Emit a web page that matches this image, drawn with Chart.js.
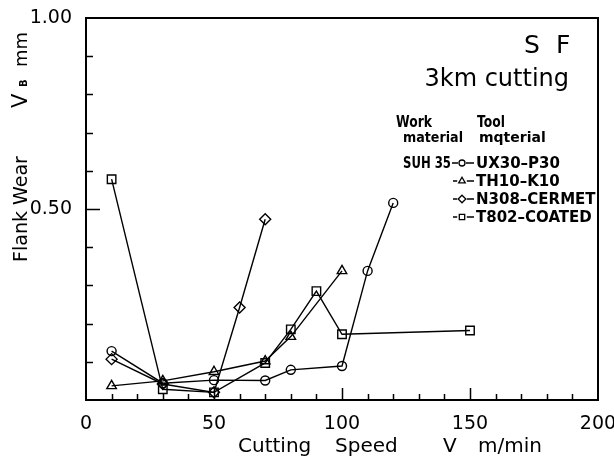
<!DOCTYPE html>
<html><head><meta charset="utf-8">
<script src="https://cdn.jsdelivr.net/npm/chart.js@4.4.0/dist/chart.umd.min.js"></script>
<style>html,body{margin:0;padding:0;background:#fff;overflow:hidden}canvas{display:block}</style>
</head><body>
<canvas id="c" width="614" height="457"></canvas>
<script>
// ---- data ----
const speedUX30 = [10, 30, 50, 70, 80, 100, 110, 120];
const wearUX30  = [0.128, 0.044, 0.052, 0.051, 0.079, 0.089, 0.338, 0.516];

const speedTH10 = [10, 30, 50, 70, 80, 100];
const wearTH10  = [0.037, 0.050, 0.074, 0.102, 0.166, 0.338];

const speedN308 = [10, 30, 50, 60, 70];
const wearN308  = [0.107, 0.042, 0.020, 0.242, 0.473];

const speedT802 = [10, 30, 50, 70, 80, 90, 100, 150];
const wearT802  = [0.578, 0.028, 0.020, 0.097, 0.185, 0.285, 0.172, 0.182];

const seriesNames = ['UX30–P30', 'TH10–K10', 'N308–CERMET', 'T802–COATED'];
const seriesStyles = ['circle', 'triangle', 'rectRot', 'rect'];
const workMaterial = 'SUH 35';
const xTickValues = [0, 50, 100, 150, 200];
const yTickValues = [0.5, 1.0];

function pts(xs, ys) { return xs.map((x, i) => ({ x: x, y: ys[i] })); }

const FONT = '"DejaVu Sans", sans-serif';

function ds(label, xs, ys, style, r) {
  return {
    label: label, data: pts(xs, ys), showLine: true,
    borderColor: '#000', borderWidth: 1.4,
    pointStyle: style, pointRadius: r, pointHoverRadius: r,
    pointBorderColor: '#000', pointBorderWidth: 1.4,
    pointBackgroundColor: 'rgba(0,0,0,0)', tension: 0
  };
}

const decor = {
  id: 'decor',
  afterDraw(chart) {
    const c = chart.ctx, a = chart.chartArea;
    const xs = chart.scales.x, ys = chart.scales.y;
    c.save();
    c.strokeStyle = '#000';
    // frame
    c.lineWidth = 2;
    c.strokeRect(a.left, a.top, a.right - a.left, a.bottom - a.top);
    // inward tick marks
    c.lineWidth = 1.5;
    c.beginPath();
    for (let v = 10; v < 200; v += 10) {
      const px = Math.round(xs.getPixelForValue(v)) + 0.5;
      const len = (v % 50 === 0) ? 12 : 6;
      c.moveTo(px, a.bottom); c.lineTo(px, a.bottom - len);
    }
    for (let k = 1; k < 10; k++) {
      const py = Math.round(ys.getPixelForValue(k / 10)) + 0.5;
      const len = (k === 5) ? 14 : 7;
      c.moveTo(a.left, py); c.lineTo(a.left + len, py);
    }
    c.stroke();

    c.fillStyle = '#000';
    c.textBaseline = 'alphabetic';
    // x axis title
    c.font = '20px ' + FONT;
    c.textAlign = 'left';
    c.fillText('Cutting', 238, 452);
    c.fillText('Speed', 335, 452);
    c.fillText('V', 443, 452);
    c.textAlign = 'right';
    c.fillText('m/min', 542, 452);

    // y axis title (rotated)
    c.save();
    c.rotate(-Math.PI / 2);
    c.textAlign = 'center';
    c.font = '19px ' + FONT;
    c.fillText('Flank Wear', -209, 27);
    c.textAlign = 'left';
    c.font = '21px ' + FONT;
    c.fillText('V', -108, 27);
    c.font = 'bold 10px ' + FONT;
    c.fillText('B', -87, 27);
    c.font = '18px ' + FONT;
    c.fillText('mm', -67, 27, 35);
    c.restore();

    // annotation titles
    c.textAlign = 'left';
    c.font = '25px ' + FONT;
    c.fillText('S', 524, 53);
    c.fillText('F', 556, 53);
    c.textAlign = 'right';
    c.font = '24px ' + FONT;
    c.fillText('3km cutting', 569, 86);

    // legend block
    c.textAlign = 'left';
    c.font = 'bold 15px ' + FONT;
    c.fillText('Work', 396, 127, 36);
    c.fillText('Tool', 477, 127, 28);
    c.font = 'bold 14px ' + FONT;
    c.fillText('material', 403, 142, 60);
    c.fillText('mqterial', 479, 142, 67);

    const rows = [168, 186, 204, 222];
    const textW = [88, 84, 121, 121];
    c.font = 'bold 15px ' + FONT;
    c.fillText(workMaterial, 403, rows[0], 48);
    c.lineWidth = 1.3;
    for (let i = 0; i < rows.length; i++) {
      const y = rows[i] - 5;
      const mx = 462;
      const rad = (i === 0) ? 3 : 3.8;
      c.beginPath();
      c.moveTo(i === 0 ? 452 : 453, y); c.lineTo(mx - rad - 1, y);
      c.moveTo(mx + rad + 1, y); c.lineTo(474, y);
      c.stroke();
      c.fillStyle = 'rgba(0,0,0,0)';
      Chart.helpers.drawPoint(c, { pointStyle: seriesStyles[i], radius: rad, borderWidth: 1.3, rotation: 0 }, mx, y);
      c.fillStyle = '#000';
      c.fillText(seriesNames[i], 476, rows[i], textW[i]);
    }
    c.restore();
  }
};

new Chart(document.getElementById('c').getContext('2d'), {
  type: 'scatter',
  data: {
    datasets: [
      ds(seriesNames[0], speedUX30, wearUX30, seriesStyles[0], 4.5),
      ds(seriesNames[1], speedTH10, wearTH10, seriesStyles[1], 5.5),
      ds(seriesNames[2], speedN308, wearN308, seriesStyles[2], 5.5),
      ds(seriesNames[3], speedT802, wearT802, seriesStyles[3], 6)
    ]
  },
  options: {
    responsive: false, animation: false, devicePixelRatio: 1,
    layout: { padding: { top: 18, right: 16, left: 0, bottom: 0 } },
    plugins: { legend: { display: false }, tooltip: { enabled: false } },
    scales: {
      x: {
        type: 'linear', min: 0, max: 200,
        grid: { display: false }, border: { display: false },
        afterBuildTicks(s) { s.ticks = xTickValues.map(v => ({ value: v })); },
        ticks: { autoSkip: false, maxRotation: 0, padding: 5, color: '#000',
                 font: { family: 'DejaVu Sans', size: 19 },
                 callback: v => String(v) },
        afterFit(s) { s.height = 57; s.paddingLeft = 0; s.paddingRight = 0; }
      },
      y: {
        type: 'linear', min: 0, max: 1,
        grid: { display: false }, border: { display: false },
        afterBuildTicks(s) { s.ticks = yTickValues.map(v => ({ value: v })); },
        ticks: { autoSkip: false, padding: 6, color: '#000',
                 font: { family: 'DejaVu Sans', size: 19 },
                 callback: v => v.toFixed(2) },
        afterFit(s) { s.width = 86; s.paddingTop = 0; s.paddingBottom = 0; }
      }
    }
  },
  plugins: [decor]
});
</script>
</body></html>
